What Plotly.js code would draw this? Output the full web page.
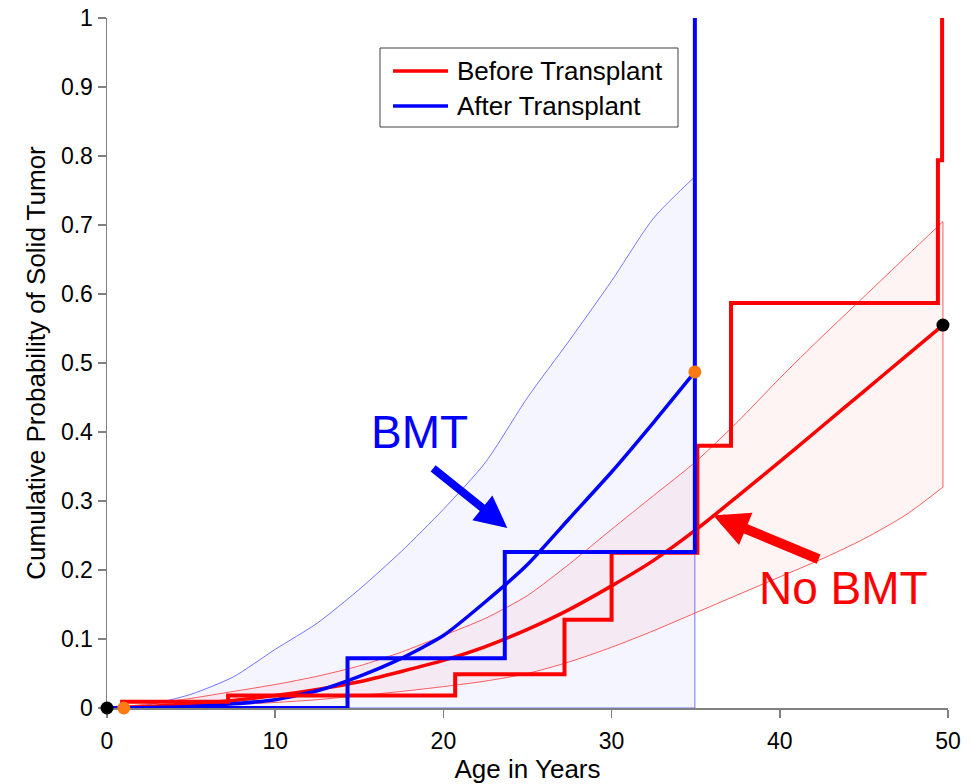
<!DOCTYPE html>
<html>
<head>
<meta charset="utf-8">
<script src="https://cdn.plot.ly/plotly-3.0.1.min.js"></script>
<style>
  html, body { margin: 0; padding: 0; background: #ffffff; }
  #chart { width: 978px; height: 784px; }
</style>
</head>
<body>
<div id="chart"></div>
<script>
// ---------- data ----------
// Kaplan-Meier style steps
const beforeAge  = [0, 0.9, 7.2, 20.7, 27.2, 30.0, 35.1, 37.1, 49.4, 49.65];
const beforeProb = [0, 0.009, 0.018, 0.049, 0.128, 0.225, 0.380, 0.587, 0.794, 1.0];

const afterAge  = [0, 14.3, 23.65, 34.95];
const afterProb = [0, 0.072, 0.226, 1.0];

// No BMT fitted curve and confidence band
const redBandAge = [0, 2.5, 5, 7.5, 10, 12.5, 15, 17.5, 20, 22.5, 25, 27.5, 30, 32.5, 35, 37.5, 40, 42.5, 45, 47.5, 49.7];
const redUpper   = [0, 0.006, 0.014, 0.024, 0.034, 0.046, 0.061, 0.081, 0.105, 0.130, 0.163, 0.209, 0.259, 0.308, 0.357, 0.415, 0.478, 0.538, 0.596, 0.654, 0.705];
const redLower   = [0, 0.001, 0.003, 0.005, 0.008, 0.012, 0.018, 0.024, 0.031, 0.039, 0.050, 0.067, 0.088, 0.112, 0.138, 0.164, 0.190, 0.216, 0.245, 0.280, 0.320];
const redFit     = [0, 0.002, 0.006, 0.011, 0.018, 0.027, 0.038, 0.053, 0.069, 0.089, 0.114, 0.143, 0.177, 0.214, 0.258, 0.307, 0.357, 0.408, 0.459, 0.510, 0.555];

// BMT fitted curve and confidence band
const blueBandAge = [0, 2.5, 5, 7.5, 10, 12.5, 15, 17.5, 20, 22.5, 25, 27.5, 30, 32.5, 34.95];
const blueUpper   = [0, 0.005, 0.020, 0.045, 0.085, 0.123, 0.172, 0.227, 0.288, 0.356, 0.450, 0.533, 0.619, 0.710, 0.770];
const blueLower   = [0, 0, 0, 0, 0, 0, 0, 0, 0, 0, 0, 0, 0, 0, 0];
const blueFit     = [0, 0.0005, 0.002, 0.006, 0.012, 0.025, 0.046, 0.072, 0.105, 0.154, 0.208, 0.275, 0.342, 0.414, 0.487];

// end-point markers
const blackDotAge  = [0, 49.7];
const blackDotProb = [0, 0.555];
const orangeDotAge  = [1.0, 34.95];
const orangeDotProb = [0, 0.487];

// axes and legend text
const ageTicks   = [0, 10, 20, 30, 40, 50];
const probTicks  = [0, 0.1, 0.2, 0.3, 0.4, 0.5, 0.6, 0.7, 0.8, 0.9, 1];
const probLabels = ['0', '0.1', '0.2', '0.3', '0.4', '0.5', '0.6', '0.7', '0.8', '0.9', '1'];
const seriesNames = ['Before Transplant', 'After Transplant'];

// ---------- build ----------
const FONT = 'Arial, "Liberation Sans", sans-serif';
const RED = '#ff0000', BLUE = '#0000ff';
const BLUE_THIN = 'rgba(60,60,255,0.7)', RED_THIN = 'rgba(255,40,40,0.75)';

function band(age, up, low) {
  return { x: age.concat(age.slice().reverse()), y: up.concat(low.slice().reverse()) };
}
const last = a => a[a.length - 1];
const bb = band(blueBandAge, blueUpper, blueLower);
const rb = band(redBandAge, redUpper, redLower);

const thinLine = (x, y, color, shape) => ({
  x, y, type: 'scatter', mode: 'lines', line: {color, width: 1, shape: shape || 'linear', smoothing: 0.7},
  showlegend: false, hoverinfo: 'skip', cliponaxis: false
});

const traces = [
  // fills
  { x: bb.x, y: bb.y, type: 'scatter', mode: 'none', fill: 'toself',
    fillcolor: 'rgba(0,0,255,0.04)', showlegend: false, hoverinfo: 'skip' },
  { x: rb.x, y: rb.y, type: 'scatter', mode: 'none', fill: 'toself',
    fillcolor: 'rgba(255,0,0,0.045)', showlegend: false, hoverinfo: 'skip' },
  // band outlines
  thinLine(blueBandAge, blueUpper, BLUE_THIN, 'spline'),
  thinLine([last(blueBandAge), last(blueBandAge), blueBandAge[0]],
           [last(blueUpper), last(blueLower), blueLower[0]], BLUE_THIN),
  thinLine(redBandAge, redUpper, RED_THIN, 'spline'),
  thinLine(redBandAge, redLower, RED_THIN, 'spline'),
  thinLine([last(redBandAge), last(redBandAge)], [last(redUpper), last(redLower)], RED_THIN),
  // fitted curves
  { x: redBandAge, y: redFit, type: 'scatter', mode: 'lines',
    line: {color: RED, width: 3.5, shape: 'spline', smoothing: 0.6}, showlegend: false },
  { x: blueBandAge, y: blueFit, type: 'scatter', mode: 'lines',
    line: {color: BLUE, width: 3.5, shape: 'spline', smoothing: 0.6}, showlegend: false },
  // step curves
  { x: beforeAge, y: beforeProb, type: 'scatter', mode: 'lines', name: seriesNames[0],
    line: {color: RED, width: 4, shape: 'hv'}, showlegend: false, cliponaxis: false },
  { x: afterAge, y: afterProb, type: 'scatter', mode: 'lines', name: seriesNames[1],
    line: {color: BLUE, width: 4, shape: 'hv'}, showlegend: false, cliponaxis: false },
  // markers
  { x: orangeDotAge, y: orangeDotProb, type: 'scatter', mode: 'markers',
    marker: {color: '#ff7a12', size: 13}, showlegend: false, cliponaxis: false },
  { x: blackDotAge, y: blackDotProb, type: 'scatter', mode: 'markers',
    marker: {color: '#000000', size: 13}, showlegend: false, cliponaxis: false }
];

// legend box drawn in paper coordinates (plot area 841 x 690 px)
const px = v => (v - 107) / 841;
const py = v => (708 - v) / 690;
const legendRows = [71, 106];
const legendColors = [RED, BLUE];

const shapes = [
  { type: 'rect', xref: 'paper', yref: 'paper', x0: px(380), x1: px(678), y0: py(127), y1: py(48),
    line: {color: '#404040', width: 1}, fillcolor: '#ffffff', layer: 'above' }
];
legendRows.forEach((r, i) => shapes.push({
  type: 'line', xref: 'paper', yref: 'paper', x0: px(393), x1: px(448), y0: py(r), y1: py(r),
  line: {color: legendColors[i], width: 3.5}, layer: 'above'
}));

const annotations = [
  { x: 18.6, y: 0.40, xref: 'x', yref: 'y', text: 'BMT', showarrow: false,
    font: {family: FONT, size: 46, color: BLUE} },
  { x: 43.8, y: 0.174, xref: 'x', yref: 'y', text: 'No BMT', showarrow: false,
    font: {family: FONT, size: 46, color: RED} },
  { x: 23.8, y: 0.261, ax: 19.3, ay: 0.349, xref: 'x', yref: 'y', axref: 'x', ayref: 'y',
    text: '', showarrow: true, arrowhead: 2, arrowwidth: 8, arrowsize: 0.8,
    arrowcolor: BLUE, standoff: 0, startstandoff: 0 },
  { x: 36.05, y: 0.279, ax: 42.4, ay: 0.215, xref: 'x', yref: 'y', axref: 'x', ayref: 'y',
    text: '', showarrow: true, arrowhead: 2, arrowwidth: 10, arrowsize: 0.7,
    arrowcolor: RED, standoff: 0, startstandoff: 0 }
];
legendRows.forEach((r, i) => annotations.push({
  x: px(455), y: py(r), xref: 'paper', yref: 'paper', xanchor: 'left', yanchor: 'middle',
  text: seriesNames[i], showarrow: false, font: {family: FONT, size: 26, color: '#000000'}
}));

const layout = {
  width: 978, height: 784,
  margin: {l: 107, r: 30, t: 18, b: 76},
  paper_bgcolor: '#ffffff', plot_bgcolor: '#ffffff',
  font: {family: FONT, color: '#000000'},
  showlegend: false,
  xaxis: {
    range: [0, 50], tickvals: ageTicks, ticktext: ageTicks.map(String),
    ticks: 'outside', ticklen: 8, tickwidth: 1.5, tickcolor: '#808080',
    showline: true, linecolor: '#808080', linewidth: 1.5,
    showgrid: false, zeroline: false, layer: 'below traces',
    ticklabelstandoff: 4,
    tickfont: {family: FONT, size: 23, color: '#000000'},
    title: {text: 'Age in Years', font: {family: FONT, size: 26, color: '#000000'}, standoff: 6}
  },
  yaxis: {
    range: [0, 1], tickvals: probTicks, ticktext: probLabels,
    ticks: 'outside', ticklen: 8, tickwidth: 1.5, tickcolor: '#808080',
    showline: true, linecolor: '#808080', linewidth: 1.5,
    showgrid: false, zeroline: false, layer: 'below traces',
    tickfont: {family: FONT, size: 23, color: '#000000'},
    title: {text: 'Cumulative Probability of Solid Tumor', font: {family: FONT, size: 26, color: '#000000'}, standoff: 8}
  },
  shapes, annotations
};

Plotly.newPlot('chart', traces, layout, {displayModeBar: false, staticPlot: true});
</script>
</body>
</html>
